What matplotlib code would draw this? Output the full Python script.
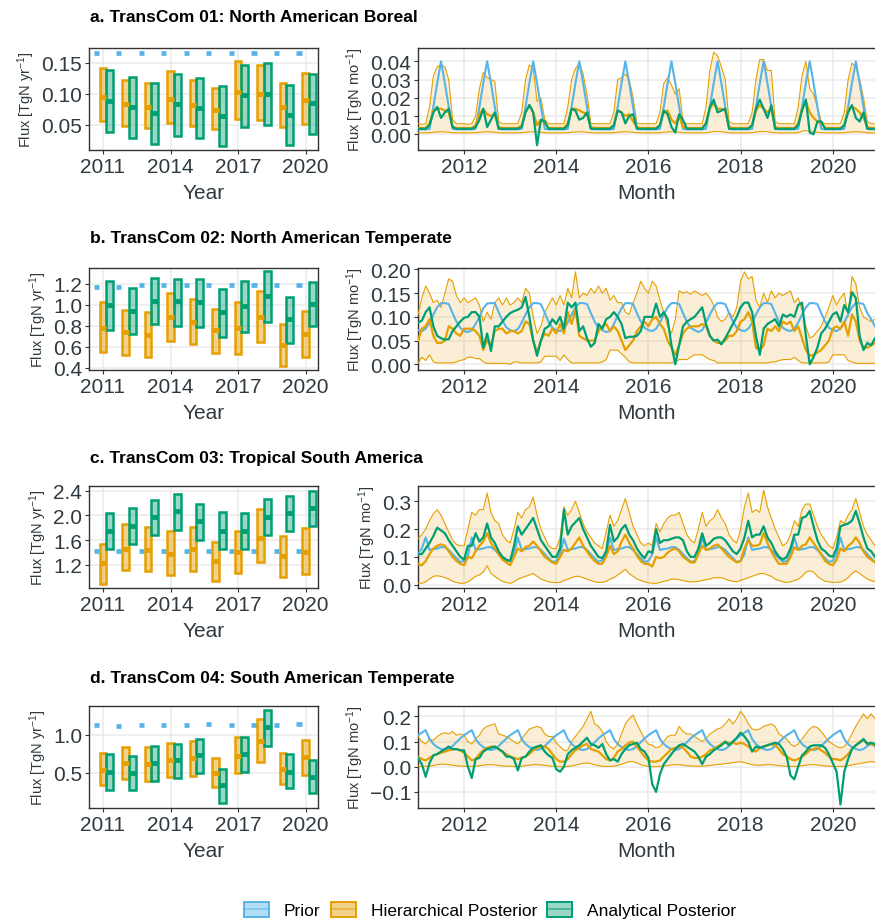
import numpy as np
import matplotlib
matplotlib.use("Agg")
import matplotlib.pyplot as plt
from matplotlib.patches import Patch
from matplotlib.lines import Line2D
from matplotlib.legend_handler import HandlerTuple

plt.rcParams['font.family'] = ['Liberation Sans', 'DejaVu Sans']
plt.rcParams['mathtext.fontset'] = 'custom'
plt.rcParams['mathtext.rm'] = 'Liberation Sans'
plt.rcParams['mathtext.it'] = 'Liberation Sans'

# ---------------- annual data ----------------
years = [2011, 2012, 2013, 2014, 2015, 2016, 2017, 2018, 2019, 2020]

a_prior_y = [0.166, 0.166, 0.166, 0.166, 0.166, 0.166, 0.166, 0.166, 0.166, 0.166]
a_hier_y_mid = [0.0957, 0.083, 0.079, 0.091, 0.082, 0.074, 0.1027, 0.100, 0.0785, 0.0898]
a_hier_y_lo = [0.0565, 0.048, 0.0457, 0.053, 0.048, 0.0435, 0.0597, 0.0586, 0.0462, 0.0516]
a_hier_y_hi = [0.1414, 0.123, 0.118, 0.136, 0.122, 0.110, 0.153, 0.147, 0.117, 0.134]
a_anal_y_mid = [0.089, 0.0785, 0.069, 0.083, 0.078, 0.065, 0.098, 0.100, 0.066, 0.085]
a_anal_y_lo = [0.039, 0.029, 0.020, 0.033, 0.029, 0.0156, 0.047, 0.050, 0.0177, 0.0355]
a_anal_y_hi = [0.139, 0.127, 0.117, 0.132, 0.125, 0.113, 0.146, 0.149, 0.115, 0.132]

b_prior_y = [1.17, 1.165, 1.19, 1.185, 1.185, 1.185, 1.185, 1.185, 1.185, 1.185]
b_hier_y_mid = [0.781, 0.737, 0.714, 0.886, 0.841, 0.756, 0.778, 0.886, 0.619, 0.724]
b_hier_y_lo = [0.549, 0.524, 0.502, 0.660, 0.625, 0.543, 0.533, 0.644, 0.422, 0.508]
b_hier_y_hi = [1.025, 0.946, 0.930, 1.111, 1.057, 0.962, 1.022, 1.133, 0.819, 0.937]
b_anal_y_mid = [1.000, 0.943, 1.035, 1.032, 1.022, 0.930, 0.984, 1.083, 0.867, 1.010]
b_anal_y_lo = [0.765, 0.724, 0.816, 0.803, 0.787, 0.698, 0.740, 0.835, 0.638, 0.794]
b_anal_y_hi = [1.225, 1.159, 1.254, 1.244, 1.241, 1.146, 1.222, 1.317, 1.073, 1.216]

c_prior_y = [1.42, 1.42, 1.42, 1.42, 1.42, 1.42, 1.42, 1.42, 1.42, 1.42]
c_hier_y_mid = [1.227, 1.458, 1.431, 1.378, 1.448, 1.259, 1.405, 1.631, 1.335, 1.405]
c_hier_y_lo = [0.893, 1.108, 1.092, 1.028, 1.103, 0.936, 1.065, 1.238, 0.995, 1.055]
c_hier_y_hi = [1.539, 1.862, 1.808, 1.744, 1.808, 1.566, 1.754, 2.104, 1.663, 1.797]
c_anal_y_mid = [1.744, 1.835, 1.970, 2.067, 1.916, 1.754, 1.754, 1.970, 2.040, 2.115]
c_anal_y_lo = [1.458, 1.539, 1.674, 1.770, 1.593, 1.453, 1.453, 1.684, 1.744, 1.824]
c_anal_y_hi = [2.040, 2.120, 2.250, 2.346, 2.185, 2.050, 2.040, 2.266, 2.310, 2.390]

d_prior_y = [1.125, 1.117, 1.125, 1.135, 1.130, 1.143, 1.135, 1.135, 1.135, 1.140]
d_hier_y_mid = [0.543, 0.626, 0.617, 0.665, 0.691, 0.496, 0.726, 0.922, 0.552, 0.704]
d_hier_y_lo = [0.335, 0.422, 0.400, 0.452, 0.465, 0.313, 0.496, 0.648, 0.357, 0.474]
d_hier_y_hi = [0.757, 0.843, 0.835, 0.891, 0.922, 0.696, 0.974, 1.213, 0.757, 0.935]
d_anal_y_mid = [0.517, 0.500, 0.630, 0.665, 0.730, 0.339, 0.748, 1.096, 0.517, 0.443]
d_anal_y_lo = [0.278, 0.270, 0.400, 0.435, 0.500, 0.104, 0.509, 0.852, 0.300, 0.235]
d_anal_y_hi = [0.743, 0.722, 0.852, 0.878, 0.948, 0.552, 0.970, 1.326, 0.743, 0.670]

# ---------------- monthly data (Jan 2011 - Dec 2020) ----------------
a_prior_m = [
    .0027, .0027, .0027, .003, .015, .028, .040, .028, .015, .003, .0027, .0027,
    .0027, .0027, .0027, .003, .015, .028, .040, .028, .015, .003, .0027, .0027,
    .0027, .0027, .0027, .003, .015, .028, .040, .028, .015, .003, .0027, .0027,
    .0027, .0027, .0027, .003, .015, .028, .040, .028, .015, .003, .0027, .0027,
    .0027, .0027, .0027, .003, .015, .028, .040, .028, .015, .003, .0027, .0027,
    .0027, .0027, .0027, .003, .015, .028, .040, .028, .015, .003, .0027, .0027,
    .0027, .0027, .0027, .003, .015, .028, .040, .028, .015, .003, .0027, .0027,
    .0027, .0027, .0027, .003, .015, .028, .040, .028, .015, .003, .0027, .0027,
    .0027, .0027, .0027, .003, .015, .028, .040, .028, .015, .003, .0027, .0027,
    .0027, .0027, .0027, .003, .015, .028, .040, .028, .015, .003, .0027, .0027]
a_hier_m = [
    .0035, .0035, .0035, .006, .013, .014, .014, .013, .012, .004, .0035, .0035,
    .0035, .0035, .0035, .005, .011, .014, .011, .010, .011, .004, .0035, .0035,
    .0035, .0035, .0035, .005, .012, .016, .012, .005, .008, .006, .0035, .0035,
    .0035, .0035, .0035, .006, .014, .014, .013, .012, .011, .004, .0035, .0035,
    .0035, .0035, .0035, .005, .013, .012, .010, .011, .007, .004, .0035, .0035,
    .0035, .0035, .0035, .005, .012, .013, .008, .006, .010, .004, .0035, .0035,
    .0035, .0035, .0035, .006, .014, .017, .014, .014, .013, .004, .0035, .0035,
    .0035, .0035, .0035, .005, .013, .016, .014, .012, .014, .004, .0035, .0035,
    .0035, .0035, .0035, .006, .014, .018, .012, .009, .007, .006, .0035, .0035,
    .0035, .0035, .0035, .005, .014, .015, .014, .012, .009, .004, .0035, .0035]
a_hier_lo = [
    .0008, .0008, .0008, .0009, .0011, .0013, .0014, .0013, .0011, .0009, .0008, .0008,
    .0008, .0008, .0008, .0009, .0011, .0013, .0014, .0013, .0011, .0009, .0008, .0008,
    .0008, .0008, .0008, .0009, .0011, .0013, .0014, .0013, .0011, .0009, .0008, .0008,
    .0008, .0008, .0008, .0009, .0011, .0013, .0014, .0013, .0011, .0009, .0008, .0008,
    .0008, .0008, .0008, .0009, .0011, .0013, .0014, .0013, .0011, .0009, .0008, .0008,
    .0008, .0008, .0008, .0009, .0011, .0013, .0014, .0013, .0011, .0009, .0008, .0008,
    .0008, .0008, .0008, .0009, .0012, .0015, .0015, .0014, .0011, .0009, .0008, .0008,
    .0008, .0008, .0008, .0009, .0012, .0015, .0015, .0014, .0011, .0009, .0008, .0008,
    .0008, .0008, .0008, .0010, .0016, .0021, .0015, .0013, .0011, .0009, .0008, .0008,
    .0008, .0008, .0008, .0009, .0011, .0013, .0014, .0013, .0011, .0009, .0008, .0008]
a_hier_hi = [
    .0058, .0055, .0058, .015, .032, .037, .038, .037, .030, .008, .0058, .0058,
    .0058, .0055, .0058, .010, .025, .034, .031, .030, .029, .007, .0058, .0058,
    .0058, .0058, .0058, .012, .030, .038, .036, .018, .020, .008, .0058, .0058,
    .0058, .0058, .0058, .015, .030, .036, .039, .033, .022, .006, .0058, .0058,
    .0058, .0058, .0058, .012, .030, .031, .033, .030, .020, .006, .0058, .0058,
    .0058, .0058, .0058, .012, .028, .031, .027, .022, .025, .007, .0058, .0058,
    .0058, .0058, .0058, .015, .035, .045, .043, .037, .030, .007, .0058, .0058,
    .0058, .0058, .0058, .012, .030, .041, .041, .035, .035, .007, .0058, .0058,
    .0058, .0058, .0058, .015, .032, .040, .025, .022, .015, .007, .0058, .0058,
    .0058, .0058, .0058, .012, .030, .039, .037, .030, .020, .007, .0058, .0058]
a_anal_m = [
    .003, .003, .003, .005, .012, .015, .009, .012, .014, .004, .003, .003,
    .003, .003, .003, .004, .008, .014, .004, .008, .012, .003, .003, .003,
    .003, .003, .003, .004, .012, .016, .012, -.006, .008, .007, .003, .003,
    .003, .003, .003, .005, .014, .013, .008, .009, .012, .003, .003, .003,
    .003, .003, .003, .005, .013, .012, .006, .010, .011, .003, .003, .003,
    .003, .003, .003, .005, .013, .011, .004, .001, .011, .008, .003, .003,
    .003, .003, .003, .006, .015, .019, .012, .013, .014, .003, .003, .003,
    .003, .003, .003, .005, .014, .019, .014, .009, .016, .003, .003, .003,
    .003, .003, .003, .005, .013, .019, .001, .000, .007, .007, .003, .003,
    .003, .003, .003, .005, .012, .016, .009, .007, .012, .003, .003, .003]

b_prior_m = [
    .072, .070, .075, .088, .105, .120, .129, .129, .127, .108, .090, .077,
    .070, .068, .072, .085, .100, .118, .128, .129, .129, .110, .092, .078,
    .072, .070, .074, .088, .105, .120, .129, .129, .127, .108, .090, .077,
    .072, .070, .075, .088, .105, .120, .129, .129, .127, .108, .090, .077,
    .072, .068, .070, .085, .102, .118, .129, .129, .127, .108, .090, .077,
    .072, .070, .075, .088, .105, .120, .129, .129, .127, .108, .090, .077,
    .072, .068, .072, .088, .105, .120, .129, .129, .127, .108, .090, .077,
    .072, .070, .075, .088, .105, .120, .129, .129, .127, .108, .090, .077,
    .072, .070, .075, .088, .105, .120, .129, .129, .127, .108, .090, .077,
    .072, .070, .075, .088, .105, .120, .129, .129, .127, .108, .095, .080]
b_hier_m = [
    .050, .075, .080, .095, .060, .045, .045, .050, .080, .075, .065, .060,
    .075, .075, .075, .070, .060, .030, .050, .040, .070, .075, .075, .065,
    .070, .070, .065, .070, .090, .085, .050, .025, .050, .065, .060, .075,
    .065, .085, .065, .110, .085, .115, .060, .055, .050, .050, .050, .070,
    .080, .085, .070, .080, .070, .050, .030, .040, .050, .070, .080, .090,
    .080, .095, .100, .085, .075, .050, .035, .020, .040, .065, .075, .080,
    .080, .080, .085, .080, .060, .050, .045, .045, .050, .060, .060, .070,
    .090, .095, .110, .090, .035, .030, .040, .075, .070, .080, .070, .090,
    .085, .090, .070, .080, .055, .030, .018, .020, .025, .030, .040, .050,
    .075, .080, .075, .090, .060, .105, .090, .050, .035, .035, .040, .045]
b_hier_lo = [
    .002, .015, .008, .020, .005, .003, .003, .003, .003, .003, .005, .008,
    .010, .015, .015, .012, .012, .005, .002, .002, .002, .002, .002, .002,
    .000, .005, .005, .003, .003, .003, .003, .003, .005, .017, .017, .017,
    .017, .008, .020, .010, .003, .003, .003, .003, .003, .003, .003, .003,
    .005, .010, .030, .030, .030, .022, .015, .005, .003, .003, .003, .003,
    .003, .003, .003, .003, .003, .003, .003, .005, .010, .010, .010, .015,
    .020, .020, .020, .015, .010, .008, .003, .003, .003, .003, .003, .003,
    .003, .003, .003, .003, .003, .003, .003, .003, .005, .005, .008, .010,
    .010, .010, .015, .008, .003, .003, .003, .003, .003, .003, .003, .005,
    .020, .020, .020, .020, .008, .005, .002, .002, .002, .002, .002, .002]
b_hier_hi = [
    .105, .140, .165, .150, .130, .135, .120, .150, .180, .175, .145, .130,
    .140, .130, .135, .140, .125, .090, .110, .095, .130, .140, .125, .140,
    .125, .130, .140, .130, .160, .150, .100, .065, .080, .110, .125, .140,
    .125, .145, .125, .160, .140, .195, .140, .150, .145, .160, .150, .165,
    .150, .160, .135, .145, .130, .130, .110, .105, .130, .150, .175, .160,
    .150, .175, .165, .135, .110, .080, .065, .095, .155, .150, .153, .148,
    .155, .150, .145, .150, .140, .125, .100, .090, .095, .110, .100, .120,
    .175, .195, .180, .185, .135, .120, .150, .130, .155, .140, .150, .145,
    .150, .155, .130, .140, .115, .080, .055, .060, .070, .080, .100, .120,
    .145, .125, .140, .150, .100, .185, .170, .120, .100, .095, .090, .095]
b_anal_m = [
    .088, .092, .110, .120, .080, .060, .055, .052, .053, .070, .080, .090,
    .098, .100, .110, .110, .100, .035, .065, .028, .080, .080, .090, .100,
    .108, .112, .115, .120, .142, .100, .050, .018, .050, .075, .080, .095,
    .085, .100, .075, .130, .120, .130, .070, .080, .055, .037, .045, .085,
    .075, .095, .100, .110, .100, .085, .055, .058, .058, .060, .070, .100,
    .100, .100, .128, .100, .110, .095, .040, .000, .040, .080, .090, .095,
    .100, .110, .120, .085, .060, .050, .052, .042, .055, .070, .085, .100,
    .120, .130, .130, .110, .060, .020, .075, .085, .090, .095, .080, .105,
    .100, .105, .100, .125, .130, .060, .000, .015, .035, .065, .075, .090,
    .105, .110, .090, .125, .110, .152, .140, .060, .030, .045, .040, .055]

c_prior_m = [
    .110, .130, .170, .125, .128, .130, .135, .135, .125, .110, .095, .082,
    .085, .105, .170, .125, .128, .130, .135, .135, .125, .110, .095, .085,
    .088, .110, .170, .125, .128, .130, .135, .135, .125, .110, .095, .082,
    .085, .110, .165, .125, .128, .130, .135, .135, .125, .110, .095, .082,
    .088, .110, .170, .125, .128, .130, .135, .135, .125, .110, .095, .082,
    .085, .110, .170, .125, .128, .130, .135, .135, .125, .110, .095, .082,
    .085, .110, .170, .125, .128, .130, .135, .135, .125, .110, .095, .082,
    .085, .110, .170, .125, .128, .130, .135, .135, .125, .110, .095, .082,
    .085, .110, .170, .125, .128, .130, .135, .135, .125, .110, .095, .082,
    .085, .110, .170, .125, .128, .130, .135, .135, .125, .110, .095, .082]
c_hier_m = [
    .075, .070, .085, .110, .130, .140, .145, .140, .120, .100, .085, .075,
    .070, .100, .095, .120, .140, .155, .185, .150, .130, .110, .090, .080,
    .070, .100, .130, .120, .135, .140, .155, .140, .120, .100, .090, .080,
    .075, .100, .125, .120, .130, .150, .170, .140, .120, .100, .085, .075,
    .075, .100, .140, .110, .120, .155, .180, .150, .130, .105, .085, .075,
    .075, .065, .100, .095, .100, .115, .125, .130, .120, .100, .090, .080,
    .080, .110, .140, .125, .130, .140, .145, .130, .115, .100, .090, .080,
    .085, .130, .160, .140, .140, .145, .185, .150, .120, .095, .075, .075,
    .075, .100, .135, .125, .140, .145, .170, .150, .130, .110, .085, .075,
    .070, .090, .130, .120, .140, .150, .170, .150, .120, .100, .090, .080]
c_hier_lo = [
    .005, .005, .010, .020, .030, .032, .030, .025, .020, .012, .008, .005,
    .005, .010, .020, .030, .035, .045, .068, .040, .030, .020, .012, .008,
    .005, .010, .020, .025, .030, .035, .040, .030, .020, .015, .010, .008,
    .007, .008, .015, .020, .025, .030, .030, .025, .020, .015, .010, .008,
    .008, .012, .020, .025, .035, .045, .055, .040, .030, .020, .015, .010,
    .007, .005, .005, .008, .012, .015, .020, .020, .018, .015, .012, .010,
    .010, .012, .015, .018, .020, .025, .025, .025, .020, .015, .012, .010,
    .015, .020, .025, .030, .035, .040, .040, .035, .030, .020, .015, .010,
    .008, .010, .015, .020, .030, .045, .050, .045, .030, .020, .012, .010,
    .008, .008, .010, .015, .025, .040, .050, .040, .030, .020, .015, .010]
c_hier_hi = [
    .165, .180, .200, .230, .255, .270, .250, .220, .190, .160, .145, .140,
    .140, .200, .260, .250, .270, .270, .330, .260, .230, .220, .180, .160,
    .150, .200, .260, .240, .270, .280, .315, .250, .200, .170, .140, .130,
    .130, .170, .280, .250, .270, .300, .260, .220, .190, .170, .150, .140,
    .130, .190, .250, .210, .230, .270, .310, .260, .210, .180, .150, .140,
    .150, .140, .220, .190, .220, .240, .250, .250, .260, .220, .180, .160,
    .150, .200, .260, .210, .230, .240, .270, .240, .220, .180, .160, .150,
    .200, .280, .330, .260, .270, .260, .340, .280, .240, .200, .170, .140,
    .150, .180, .230, .210, .270, .290, .290, .250, .210, .180, .160, .140,
    .130, .170, .230, .220, .250, .270, .310, .260, .210, .180, .160, .140]
c_anal_m = [
    .110, .110, .130, .150, .175, .205, .195, .185, .160, .140, .120, .100,
    .090, .140, .140, .185, .155, .170, .220, .170, .150, .120, .100, .090,
    .085, .140, .210, .180, .200, .220, .240, .200, .160, .140, .120, .100,
    .100, .130, .270, .180, .210, .225, .240, .200, .170, .140, .120, .100,
    .095, .120, .215, .155, .170, .200, .215, .180, .160, .130, .110, .095,
    .120, .115, .200, .150, .160, .160, .165, .170, .170, .160, .120, .100,
    .100, .130, .185, .140, .150, .165, .170, .170, .160, .140, .120, .110,
    .130, .170, .230, .170, .180, .180, .210, .170, .150, .120, .100, .090,
    .100, .130, .180, .180, .240, .245, .265, .210, .160, .130, .120, .105,
    .100, .130, .210, .215, .220, .230, .265, .220, .170, .130, .120, .100]

d_prior_m = [
    .125, .135, .145, .110, .090, .078, .070, .066, .070, .082, .097, .112,
    .125, .135, .145, .110, .090, .078, .070, .066, .070, .082, .097, .112,
    .125, .135, .145, .110, .090, .078, .070, .066, .070, .082, .097, .112,
    .125, .135, .145, .110, .090, .078, .070, .066, .070, .082, .097, .112,
    .125, .135, .145, .110, .090, .078, .070, .066, .070, .082, .097, .112,
    .125, .135, .145, .110, .090, .078, .070, .066, .070, .082, .097, .112,
    .125, .135, .145, .110, .090, .078, .070, .066, .070, .082, .097, .112,
    .125, .135, .145, .110, .090, .078, .070, .066, .070, .082, .097, .112,
    .125, .135, .145, .110, .090, .078, .070, .066, .070, .082, .097, .112,
    .125, .135, .145, .110, .090, .078, .070, .066, .070, .082, .090, .080]
d_hier_m = [
    .040, .030, .025, .035, .045, .050, .055, .060, .065, .068, .070, .065,
    .055, .040, .025, .030, .050, .065, .075, .080, .080, .070, .060, .050,
    .040, .035, .030, .035, .040, .050, .065, .075, .080, .080, .070, .050,
    .030, .020, .020, .030, .050, .065, .075, .085, .090, .070, .065, .060,
    .045, .030, .025, .035, .060, .070, .085, .095, .100, .080, .060, .040,
    .025, .020, .020, .025, .040, .055, .070, .075, .080, .075, .060, .040,
    .035, .035, .040, .050, .065, .070, .080, .090, .095, .095, .095, .090,
    .095, .090, .080, .065, .060, .075, .080, .085, .090, .085, .070, .050,
    .040, .030, .025, .030, .040, .050, .065, .070, .075, .065, .055, .040,
    .030, .030, .025, .035, .050, .070, .085, .100, .105, .095, .090, .085]
d_hier_lo = [
    .002, .001, .001, .002, .005, .008, .010, .010, .008, .006, .004, .003,
    .002, .001, .001, .002, .004, .006, .008, .008, .007, .005, .003, .002,
    .002, .001, .001, .002, .004, .006, .008, .008, .007, .005, .003, .002,
    .001, .000, .000, .001, .003, .006, .010, .013, .015, .012, .008, .004,
    .002, .001, .001, .002, .005, .010, .015, .020, .020, .015, .008, .004,
    .001, .000, .000, .001, .003, .005, .007, .008, .008, .006, .004, .003,
    .002, .002, .002, .003, .005, .007, .009, .010, .012, .014, .016, .018,
    .020, .016, .012, .008, .006, .006, .007, .008, .008, .006, .004, .003,
    .002, .001, .001, .002, .004, .006, .008, .008, .007, .005, .003, .002,
    .001, .001, .001, .002, .004, .007, .010, .012, .015, .018, .020, .018]
d_hier_hi = [
    .120, .100, .090, .110, .105, .120, .130, .135, .130, .140, .125, .130,
    .125, .100, .090, .110, .125, .150, .160, .165, .170, .130, .125, .120,
    .110, .100, .090, .110, .130, .150, .155, .160, .155, .130, .120, .120,
    .095, .080, .065, .065, .100, .120, .140, .160, .190, .220, .170, .160,
    .140, .100, .080, .070, .090, .130, .170, .190, .205, .170, .140, .110,
    .090, .085, .075, .080, .100, .120, .125, .125, .160, .140, .130, .130,
    .120, .110, .100, .110, .130, .140, .150, .155, .170, .190, .170, .190,
    .220, .200, .170, .150, .145, .150, .160, .165, .170, .160, .130, .120,
    .110, .090, .080, .090, .110, .130, .150, .160, .155, .140, .120, .100,
    .090, .080, .075, .080, .100, .130, .160, .185, .210, .190, .210, .190]
d_anal_m = [
    .035, .010, -.040, .015, .045, .050, .060, .070, .080, .070, .070, .065,
    .065, .000, -.045, .030, .035, .060, .070, .075, .080, .070, .060, .040,
    .040, .030, -.015, .035, .040, .060, .075, .080, .085, .060, .045, .035,
    -.010, -.020, .000, .050, .065, .075, .085, .100, .115, .090, .085, .075,
    .090, .050, .025, .030, .020, .050, .070, .085, .090, .095, .070, .060,
    .035, -.070, -.100, -.030, .010, .030, .050, .070, .085, .090, .080, .070,
    .060, .040, .010, .040, .050, .065, .075, .085, .100, .085, .100, .115,
    .135, .120, .100, .060, .080, .075, .080, .085, .090, .095, .090, .070,
    .040, -.035, -.050, .000, .045, .060, .080, .085, .085, .085, .075, .050,
    .015, -.020, -.150, -.020, .030, .070, .085, .095, .110, .090, .095, .090]

titles = ["a. TransCom 01: North American Boreal",
          "b. TransCom 02: North American Temperate",
          "c. TransCom 03: Tropical South America",
          "d. TransCom 04: South American Temperate"]
legend_labels = ["Prior", "Hierarchical Posterior", "Analytical Posterior"]

left_yticks = [[0.05, 0.10, 0.15], [0.4, 0.6, 0.8, 1.0, 1.2], [1.2, 1.6, 2.0, 2.4], [0.5, 1.0]]
left_yticklabels = [["0.05", "0.10", "0.15"], ["0.4", "0.6", "0.8", "1.0", "1.2"],
                    ["1.2", "1.6", "2.0", "2.4"], ["0.5", "1.0"]]
left_ylims = [(0.0097, 0.1737), (0.381, 1.349), (0.823, 2.476), (0.039, 1.378)]
right_yticks = [[0.0, 0.01, 0.02, 0.03, 0.04], [0.0, 0.05, 0.10, 0.15, 0.20],
                [0.0, 0.1, 0.2, 0.3], [-0.1, 0.0, 0.1, 0.2]]
right_yticklabels = [["0.00", "0.01", "0.02", "0.03", "0.04"],
                     ["0.00", "0.05", "0.10", "0.15", "0.20"],
                     ["0.0", "0.1", "0.2", "0.3"], ["\u22120.1", "0.0", "0.1", "0.2"]]
right_ylims = [(-0.0086, 0.0473), (-0.012, 0.203), (-0.012, 0.355), (-0.164, 0.241)]

annual = [
    (a_prior_y, a_hier_y_mid, a_hier_y_lo, a_hier_y_hi, a_anal_y_mid, a_anal_y_lo, a_anal_y_hi),
    (b_prior_y, b_hier_y_mid, b_hier_y_lo, b_hier_y_hi, b_anal_y_mid, b_anal_y_lo, b_anal_y_hi),
    (c_prior_y, c_hier_y_mid, c_hier_y_lo, c_hier_y_hi, c_anal_y_mid, c_anal_y_lo, c_anal_y_hi),
    (d_prior_y, d_hier_y_mid, d_hier_y_lo, d_hier_y_hi, d_anal_y_mid, d_anal_y_lo, d_anal_y_hi),
]
monthly = [
    (a_prior_m, a_hier_m, a_hier_lo, a_hier_hi, a_anal_m),
    (b_prior_m, b_hier_m, b_hier_lo, b_hier_hi, b_anal_m),
    (c_prior_m, c_hier_m, c_hier_lo, c_hier_hi, c_anal_m),
    (d_prior_m, d_hier_m, d_hier_lo, d_hier_hi, d_anal_m),
]

# ---------------- style ----------------
C_PRIOR = '#56B4E9'
C_HIER = '#E69F00'
C_ANAL = '#009E73'
TXT = '#2F3A40'
GRID = '#EBEBEB'
SPINE = '#333333'
TICK_FS = 15

W, H = 875, 920
fig = plt.figure(figsize=(W / 100, H / 100), dpi=100)

def px_axes(x0, y0, x1, y1):
    return fig.add_axes([x0 / W, 1 - y1 / H, (x1 - x0) / W, (y1 - y0) / H])

panel_tops = [49, 269, 487, 707]
panel_h = 102
title_y = [18, 239, 459, 679]

yrs = np.array(years, dtype=float)
mx = 2011 + np.arange(120) / 12.0

def style_axes(ax):
    for s in ax.spines.values():
        s.set_color(SPINE)
        s.set_linewidth(1.0)
    ax.tick_params(axis='both', which='major', length=3, width=0.8, color=SPINE,
                   labelsize=TICK_FS, labelcolor=TXT, pad=2)
    ax.grid(True, which='major', color=GRID, lw=1.1, zorder=0)
    ax.set_axisbelow(True)

for i in range(4):
    top = panel_tops[i]
    # ---- left (annual) ----
    axl = px_axes(89, top, 318, top + panel_h)
    style_axes(axl)
    pr, hm, hl, hh, am, al, ah = [np.array(v) for v in annual[i]]
    bw = 0.30
    axl.hlines(pr, yrs - 0.3 - 0.12, yrs - 0.3 + 0.12, color=C_PRIOR, lw=3.4, zorder=3)
    axl.bar(yrs, hh - hl, bottom=hl, width=bw, facecolor=(0.902, 0.624, 0.0, 0.45),
            edgecolor=C_HIER, linewidth=1.8, zorder=3)
    axl.hlines(hm, yrs - bw / 2, yrs + bw / 2, color=C_HIER, lw=3.5, zorder=4)
    axl.bar(yrs + 0.3, ah - al, bottom=al, width=bw, facecolor=(0.0, 0.62, 0.451, 0.40),
            edgecolor=C_ANAL, linewidth=1.8, zorder=3)
    axl.hlines(am, yrs + 0.3 - bw / 2, yrs + 0.3 + bw / 2, color=C_ANAL, lw=3.5, zorder=4)
    axl.set_xlim(2010.38, 2020.55)
    axl.set_xticks([2011, 2014, 2017, 2020])
    axl.set_yticks(left_yticks[i])
    axl.set_yticklabels(left_yticklabels[i])
    axl.set_ylim(*left_ylims[i])
    axl.set_xlabel('Year', fontsize=TICK_FS, color=TXT, labelpad=5)
    axl.set_ylabel('Flux [TgN yr$^{-1}$]', fontsize=10.5, color=TXT, labelpad=3)

    # ---- right (monthly) ----
    axr = px_axes(418, top, 875, top + panel_h)
    style_axes(axr)
    pm, hmm, hlo, hhi, amm = [np.array(v) for v in monthly[i]]
    axr.fill_between(mx, hlo, hhi, color=C_HIER, alpha=0.16, lw=0, zorder=2)
    axr.plot(mx, hlo, color=C_HIER, lw=0.8, zorder=3)
    axr.plot(mx, hhi, color=C_HIER, lw=0.8, zorder=3)
    axr.plot(mx, pm, color=C_PRIOR, lw=1.5, zorder=4)
    axr.plot(mx, hmm, color=C_HIER, lw=1.6, zorder=5)
    axr.plot(mx, amm, color=C_ANAL, lw=1.6, zorder=6)
    axr.set_xlim(mx[0], mx[-1])
    axr.set_xticks([2012, 2014, 2016, 2018, 2020])
    axr.set_yticks(right_yticks[i])
    axr.set_yticklabels(right_yticklabels[i])
    axr.set_ylim(*right_ylims[i])
    axr.spines['right'].set_visible(False)
    axr.set_xlabel('Month', fontsize=TICK_FS, color=TXT, labelpad=5)
    axr.set_ylabel('Flux [TgN mo$^{-1}$]', fontsize=10.5, color=TXT, labelpad=3)

    fig.text(90 / W, 1 - title_y[i] / H, titles[i], fontsize=12.5, fontweight='bold',
             color='black', ha='left', va='center')

# ---------------- legend ----------------
handles = []
for c, fa in [(C_PRIOR, 0.45), (C_HIER, 0.45), (C_ANAL, 0.40)]:
    p = Patch(facecolor=matplotlib.colors.to_rgba(c, fa), edgecolor=c, linewidth=1.4)
    l = Line2D([], [], color=c, lw=1.2, alpha=0.6)
    handles.append((p, l))
fig.legend(handles, legend_labels, handler_map={tuple: HandlerTuple(ndivide=1, pad=0)},
           loc='center', bbox_to_anchor=(490 / W, 1 - 911 / H), ncol=3, frameon=False,
           fontsize=12.5, handlelength=1.45, handleheight=0.95, columnspacing=0.6,
           handletextpad=0.85, labelcolor='black')

fig.savefig('out.png', dpi=100)
